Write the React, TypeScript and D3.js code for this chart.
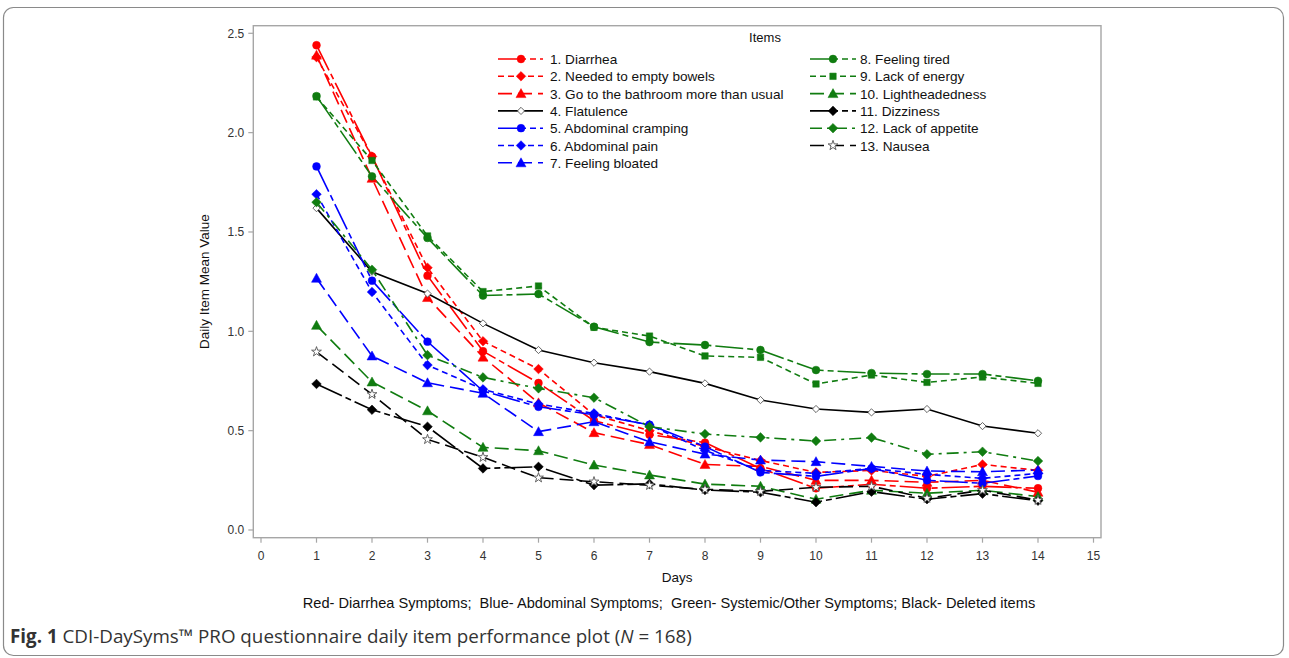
import React from "react";
import * as d3 from "d3";

const days = [1, 2, 3, 4, 5, 6, 7, 8, 9, 10, 11, 12, 13, 14];
const xTicks = [0, 1, 2, 3, 4, 5, 6, 7, 8, 9, 10, 11, 12, 13, 14, 15];
const yTicks = [0, 0.5, 1.0, 1.5, 2.0, 2.5];

const itemNames = [
  "1. Diarrhea",
  "2. Needed to empty bowels",
  "3. Go to the bathroom more than usual",
  "4. Flatulence",
  "5. Abdominal cramping",
  "6. Abdominal pain",
  "7. Feeling bloated",
  "8. Feeling tired",
  "9. Lack of energy",
  "10. Lightheadedness",
  "11. Dizziness",
  "12. Lack of appetite",
  "13. Nausea",
];

const diarrhea = [2.44, 1.88, 1.28, 0.9, 0.74, 0.55, 0.48, 0.44, 0.31, 0.21, 0.23, 0.21, 0.22, 0.21];
const neededEmpty = [2.38, 1.88, 1.32, 0.95, 0.81, 0.58, 0.5, 0.42, 0.35, 0.29, 0.3, 0.27, 0.33, 0.3];
const bathroom = [2.39, 1.77, 1.17, 0.87, 0.64, 0.49, 0.43, 0.33, 0.32, 0.25, 0.25, 0.24, 0.25, 0.19];
const flatulence = [1.62, 1.3, 1.19, 1.04, 0.906, 0.842, 0.797, 0.738, 0.654, 0.609, 0.592, 0.609, 0.523, 0.487];
const cramping = [1.83, 1.255, 0.948, 0.7, 0.62, 0.58, 0.53, 0.42, 0.29, 0.27, 0.31, 0.25, 0.235, 0.272];
const abdPain = [1.69, 1.198, 0.83, 0.708, 0.634, 0.587, 0.528, 0.4, 0.3, 0.285, 0.31, 0.28, 0.26, 0.285];
const bloated = [1.267, 0.876, 0.741, 0.688, 0.495, 0.545, 0.444, 0.382, 0.352, 0.344, 0.32, 0.297, 0.293, 0.302];
const tired = [2.184, 1.78, 1.47, 1.18, 1.188, 1.023, 0.946, 0.931, 0.906, 0.805, 0.79, 0.785, 0.785, 0.751];
const energy = [2.18, 1.86, 1.48, 1.2, 1.228, 1.02, 0.976, 0.876, 0.869, 0.735, 0.78, 0.743, 0.77, 0.738];
const lighthead = [1.03, 0.745, 0.6, 0.416, 0.399, 0.327, 0.277, 0.231, 0.22, 0.155, 0.2, 0.185, 0.2, 0.168];
const dizziness = [0.735, 0.605, 0.52, 0.31, 0.318, 0.226, 0.232, 0.201, 0.19, 0.14, 0.193, 0.155, 0.183, 0.147];
const appetite = [1.65, 1.31, 0.88, 0.768, 0.713, 0.666, 0.52, 0.483, 0.466, 0.448, 0.465, 0.381, 0.394, 0.347];
const nausea = [0.897, 0.683, 0.456, 0.366, 0.263, 0.243, 0.225, 0.205, 0.195, 0.215, 0.22, 0.16, 0.2, 0.15];

const seriesValues = [diarrhea, neededEmpty, bathroom, flatulence, cramping, abdPain, bloated, tired, energy, lighthead, dizziness, appetite, nausea];

const RED = "#ff0000";
const BLUE = "#0000ff";
const GREEN = "#107c10";
const BLACK = "#000000";

const colors = [RED, RED, RED, BLACK, BLUE, BLUE, BLUE, GREEN, GREEN, GREEN, BLACK, GREEN, BLACK];
const markers = ["circle", "diamond", "triangle", "odiamond", "circle", "diamond", "triangle", "circle", "square", "triangle", "diamond", "diamond", "star"];
const DASH_A = "28 4 6 4";
const DASH_SHORT = "6 4";
const DASH_LONG = "14 6";
const DASH_DOT = "12 5 3 5";
const dashes = [DASH_A, DASH_SHORT, DASH_LONG, "none", DASH_A, DASH_SHORT, DASH_LONG, DASH_A, DASH_SHORT, DASH_LONG, DASH_A, DASH_DOT, DASH_LONG];

function markerPath(type: string): string {
  if (type === "circle") return d3.symbol().type(d3.symbolCircle).size(48)() as string;
  if (type === "square") return d3.symbol().type(d3.symbolSquare).size(42)() as string;
  if (type === "triangle") {
    const s = 5;
    return `M0,${-s}L${s},${s * 0.8}L${-s},${s * 0.8}Z`;
  }
  if (type === "diamond") {
    const s = 4.8;
    return `M0,${-s}L${s},0L0,${s}L${-s},0Z`;
  }
  if (type === "odiamond") {
    const s = 3.6;
    return `M0,${-s}L${s},0L0,${s}L${-s},0Z`;
  }
  if (type === "star") return d3.symbol().type(d3.symbolStar).size(30)() as string;
  return "";
}

function Marker({ type, x, y, color }: { type: string; x: number; y: number; color: string }) {
  const open = type === "odiamond" || type === "star";
  return (
    <path
      d={markerPath(type)}
      transform={`translate(${x},${y})`}
      fill={open ? "#ffffff" : color}
      stroke={open ? "#555" : color}
      strokeWidth={open ? 0.9 : 0.5}
    />
  );
}

export default function App() {
  const W = 1289;
  const H = 658;
  const x = d3.scaleLinear().domain([0, 15]).range([261, 1093.5]);
  const y = d3.scaleLinear().domain([0, 2.5]).range([530, 33.3]);
  const frame = { x0: 253.3, y0: 25.7, x1: 1101, y1: 537.7 };
  const line = d3
    .line<number>()
    .x((_, i) => x(days[i]))
    .y((v) => y(v));

  const font = "'Liberation Sans', Arial, sans-serif";
  const legendLeft = { lx0: 498, lx1: 543, mx: 521, tx: 550 };
  const legendRight = { lx0: 810, lx1: 856, mx: 833, tx: 860 };
  const rowY = (r: number) => 59 + r * 17.3;

  return (
    <svg
      width={W}
      height={H}
      style={{ position: "absolute", left: 0, top: 0, background: "#fff" }}
      fontFamily={font}
    >
      <rect x={0} y={0} width={W} height={H} fill="#ffffff" />
      <rect x={3.5} y={7.5} width={1280} height={648} rx={10} ry={10} fill="none" stroke="#8a8a8a" strokeWidth={1.2} />

      <rect
        x={frame.x0}
        y={frame.y0}
        width={frame.x1 - frame.x0}
        height={frame.y1 - frame.y0}
        fill="#ffffff"
        stroke="#a6a6a6"
        strokeWidth={1.4}
      />

      {yTicks.map((t) => (
        <g key={"y" + t}>
          <line x1={frame.x0 - 5} x2={frame.x0} y1={y(t)} y2={y(t)} stroke="#a6a6a6" strokeWidth={1.2} />
          <text x={frame.x0 - 9} y={y(t) + 4.2} textAnchor="end" fontSize={12} fill="#333">
            {t.toFixed(1)}
          </text>
        </g>
      ))}
      {xTicks.map((t) => (
        <g key={"x" + t}>
          <line x1={x(t)} x2={x(t)} y1={frame.y1} y2={frame.y1 + 5} stroke="#a6a6a6" strokeWidth={1.2} />
          <text x={x(t)} y={560} textAnchor="middle" fontSize={12} fill="#333">
            {t}
          </text>
        </g>
      ))}

      <text
        transform={`translate(209,${(frame.y0 + frame.y1) / 2}) rotate(-90)`}
        textAnchor="middle"
        fontSize={13.5}
        fill="#111"
      >
        Daily Item Mean Value
      </text>
      <text x={(frame.x0 + frame.x1) / 2} y={582} textAnchor="middle" fontSize={13.5} fill="#111">
        Days
      </text>

      {seriesValues.map((vals, i) => (
        <path
          key={"l" + i}
          d={line(vals) as string}
          fill="none"
          stroke={colors[i]}
          strokeWidth={1.6}
          strokeDasharray={dashes[i] === "none" ? undefined : dashes[i]}
        />
      ))}
      {seriesValues.map((vals, i) => (
        <g key={"m" + i}>
          {vals.map((v, j) => (
            <Marker key={j} type={markers[i]} x={x(days[j])} y={y(v)} color={colors[i]} />
          ))}
        </g>
      ))}

      <text x={765} y={42} textAnchor="middle" fontSize={13} fill="#111">
        Items
      </text>
      {itemNames.map((name, i) => {
        const left = i < 7;
        const L = left ? legendLeft : legendRight;
        const ry = rowY(left ? i : i - 7);
        return (
          <g key={"lg" + i}>
            <line
              x1={L.lx0}
              x2={L.lx1}
              y1={ry}
              y2={ry}
              stroke={colors[i]}
              strokeWidth={1.6}
              strokeDasharray={dashes[i] === "none" ? undefined : dashes[i]}
            />
            <Marker type={markers[i]} x={L.mx} y={ry} color={colors[i]} />
            <text x={L.tx} y={ry + 5} fontSize={13.6} fill="#111">
              {name}
            </text>
          </g>
        );
      })}

      <text x={669} y={608} textAnchor="middle" fontSize={14.6} fill="#111" style={{ whiteSpace: "pre" }}>
        {"Red- Diarrhea Symptoms;  Blue- Abdominal Symptoms;  Green- Systemic/Other Symptoms; Black- Deleted items"}
      </text>

      <text x={10} y={643} fontSize={18.8} fill="#333" fontFamily="'Open Sans', sans-serif">
        <tspan fontWeight="bold">Fig. 1</tspan>
        <tspan> CDI-DaySyms™ PRO questionnaire daily item performance plot (</tspan>
        <tspan fontStyle="italic">N</tspan>
        <tspan> = 168)</tspan>
      </text>
    </svg>
  );
}
